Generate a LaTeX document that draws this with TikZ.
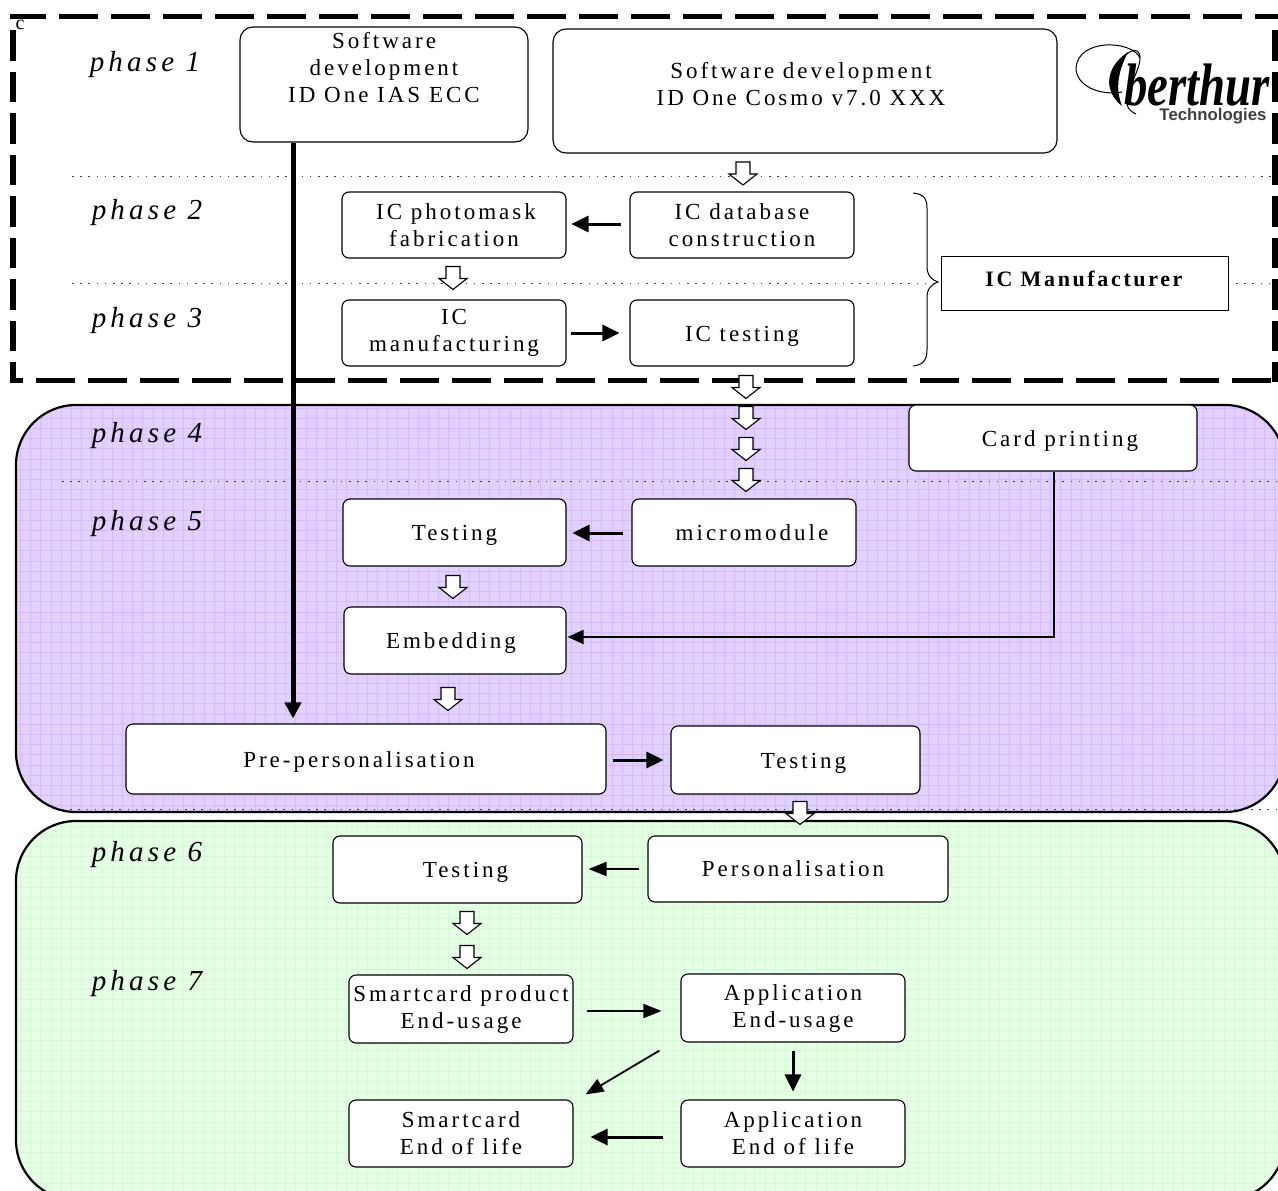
\documentclass[tikz,border=0pt]{standalone}
\usepackage{fontspec}
\setmainfont{Liberation Serif}
\newfontfamily\spaced[LetterSpace=13]{Liberation Serif}
\newfontfamily\spacedit[LetterSpace=14.5,Ligatures=NoCommon]{Liberation Serif Italic}
\newfontfamily\spacedbf[LetterSpace=12]{Liberation Serif Bold}
\newfontfamily\logofont{Liberation Serif Bold Italic}
\newfontfamily\logosans{Liberation Sans Bold}
\usetikzlibrary{arrows.meta,calc}
\tikzset{
  x=1pt,y=-1pt,
  boxbase/.style={draw=black,line width=1.1pt,fill=white,align=center,inner sep=0pt,
    font=\fontsize{23}{27}\spaced,text=black},
  box/.style={boxbase,rounded corners=7pt},
  bigbox/.style={boxbase,rounded corners=13pt},
  phase/.style={inner sep=0pt,font=\fontsize{29}{30}\spacedit,text=black},
  fat/.style={-{Triangle[length=17pt,width=16pt]},line width=3pt,black},
  thin/.style={-{Triangle[length=18pt,width=14pt]},line width=1.8pt,black},
  heavy/.style={-{Triangle[length=16pt,width=16pt]},line width=5pt,black},
  blockshape/.style={draw=black,fill=white,line width=1.1pt,line join=miter},
  sep/.style={line width=1pt,dash pattern=on 1.6pt off 6.6pt,black!75},
  frameh/.style={line width=5pt,black,dash pattern=on 39pt off 13pt},
  framev/.style={line width=6pt,black,dash pattern=on 30.5pt off 11pt},
  zone/.style={draw=black,line width=2.2pt,rounded corners=60pt},
}
\newcommand{\bx}[7][box]{\node[#1,minimum width=#5pt-#3pt,minimum height=#6pt-#4pt] (#2) at ({(#3+#5)/2},{(#4+#6)/2}) {#7};}
\newcommand{\blk}[3]{\coordinate (#1) at (#2,#3);
  \draw[blockshape] (#1) ++(-7,-11.5) -- ++(14,0) -- ++(0,12) -- ++(7,0) -- ++(-14,11) -- ++(-14,-11) -- ++(7,0) -- cycle;}
\newcommand{\dn}[1]{\raisebox{-8pt}[0pt][0pt]{#1}}
\begin{document}
\begin{tikzpicture}
\useasboundingbox (0,0) rectangle (1278,1191);
\clip (0,0) rectangle (1278,1191);
\fill[white] (0,0) rectangle (1278,1191);
% zones
\fill[fill={rgb,255:red,226;green,208;blue,255},rounded corners=60pt] (16,405) rectangle (1285,812);
\begin{scope}
  \clip[rounded corners=60pt] (16,405) rectangle (1285,812);
  \draw[line width=0.9pt,draw={rgb,255:red,213;green,186;blue,252}] (10.2,397.8) grid[xstep=10.2pt,ystep=10.2pt] (1290,820);
\end{scope}
\draw[zone] (16,405) rectangle (1285,812);
\fill[fill={rgb,255:red,228;green,255;blue,228},rounded corners=60pt] (16,821) rectangle (1285,1200);
\begin{scope}
  \clip[rounded corners=60pt] (16,821) rectangle (1285,1200);
  \draw[line width=0.9pt,draw={rgb,255:red,214;green,248;blue,214}] (10.2,816) grid[xstep=10.2pt,ystep=10.2pt] (1290,1205);
\end{scope}
\draw[zone] (16,821) rectangle (1285,1200);
% dotted separators
\draw[sep] (72,176) -- (1278,176);
\draw[sep] (72,283) -- (941,283);
\draw[sep] (1236,283) -- (1278,283);
\draw[sep] (62,481) -- (1278,481);
\draw[sep] (62,809) -- (1278,809);
% dashed frame
\draw[frameh,dash phase=3pt] (10,16) -- (1278,16);
\draw[frameh] (36,380) -- (1278,380);
\draw[line width=5pt] (10,380) -- (23,380);
\draw[framev] (13,30) -- (13,382);
\draw[framev] (1275,30) -- (1275,382);
% labels
\node[inner sep=0pt,font=\fontsize{20}{20}\selectfont] (cmark) at (20,24.5) {c};
\node[phase] (ph1) at (145,65) {phase 1};
\node[phase] (ph2) at (147,213) {phase 2};
\node[phase] (ph3) at (147,321) {phase 3};
\node[phase] (ph4) at (147,436) {phase 4};
\node[phase] (ph5) at (147,524) {phase 5};
\node[phase] (ph6) at (147,855) {phase 6};
\node[phase] (ph7) at (147,984) {phase 7};
% boxes
\bx[bigbox]{swa}{240}{27}{528}{142}{}
\node[font=\fontsize{23}{27}\spaced,align=center,inner sep=0pt] (swat) at (384,68) {Software\\development\\ID One IAS ECC};
\bx[bigbox]{swb}{553}{29}{1057}{153}{}
\node[font=\fontsize{23}{27}\spaced,align=center,inner sep=0pt] (swbt) at (801,84) {Software development\\ID One Cosmo v7.0 XXX};
\bx{mask}{342}{192}{566}{258}{\hspace*{4pt}IC photomask\\fabrication}
\bx{db}{630}{192}{854}{258}{IC database\\construction}
\bx{manu}{342}{300}{566}{366}{IC\\manufacturing}
\bx{ictest}{630}{300}{854}{366}{\dn{IC testing}}
\node[draw=black,line width=0.9pt,fill=white,minimum width=287pt,minimum height=54pt,inner sep=0pt] (icm) at (1084.5,283) {};
\node[font=\fontsize{22}{24}\spacedbf,inner sep=0pt] (icmt) at (1084,279) {IC Manufacturer};
\bx{card}{909}{405}{1197}{471}{\hspace*{14pt}\dn{Card printing}}
\bx{micro}{632}{499}{856}{566}{\hspace*{16pt}micromodule}
\bx{testa}{343}{499}{566}{566}{\dn{Testing}}
\bx{emb}{344}{607}{566}{674}{\dn{Embedding}\hspace*{8pt}}
\bx{pre}{126}{724}{606}{794}{\dn{Pre-personalisation}\hspace*{14pt}}
\bx{testb}{671}{726}{920}{794}{\hspace*{16pt}\dn{Testing}}
\bx{pers}{648}{836}{948}{902}{Personalisation\hspace*{10pt}}
\bx{testc}{333}{836}{582}{903}{\hspace*{16pt}\dn{Testing}}
\bx{smart}{349}{975}{573}{1043}{Smartcard product\\End-usage}
\bx{app}{681}{974}{905}{1042}{Application\\End-usage}
\bx{smartend}{349}{1100}{573}{1167}{Smartcard\\End of life}
\bx{append}{681}{1100}{905}{1167}{Application\\End of life}
% brace
\draw[line width=1pt] (913,193) .. controls (923,194) and (927,198) .. (927,208)
  -- (927,266) .. controls (927,276) and (932,280) .. (938,282)
  .. controls (932,284) and (927,288) .. (927,298)
  -- (927,350) .. controls (927,360) and (923,365) .. (913,366);
% block arrows
\blk{ba1}{743}{173.5}
\blk{ba2}{453}{278}
\blk{ba3}{746}{387}
\blk{ba4}{746}{418}
\blk{ba5}{746}{449}
\blk{ba6}{746}{480}
\blk{ba7}{453}{587}
\blk{ba8}{448}{699}
\blk{ba9}{800}{813}
\blk{ba10}{467}{923}
\blk{ba11}{467}{957}
% connectors
\draw[fat,shorten <=8pt,shorten >=5pt] (db.west |- 0,224) -- (mask.east |- 0,224);
\draw[fat,shorten <=4pt,shorten >=10pt] (manu.east |- 0,333) -- (ictest.west |- 0,333);
\draw[fat,shorten <=8pt,shorten >=6pt] (micro.west |- 0,533) -- (testa.east |- 0,533);
\draw[fat,shorten <=6pt,shorten >=7pt] (pre.east |- 0,760) -- (testb.west |- 0,760);
\draw[thin,shorten <=8pt,shorten >=6pt] (pers.west |- 0,869) -- (testc.east |- 0,869);
\draw[thin,shorten <=13pt,shorten >=19pt] (smart.east |- 0,1011) -- (app.west |- 0,1011);
\draw[fat,shorten <=8pt,shorten >=8pt] (app.south) -- (append.north);
\draw[fat,shorten <=17pt,shorten >=17pt] (append.west |- 0,1137) -- (smartend.east |- 0,1137);
\draw[thin] ($(app.south west)+(-21,8)$) -- ($(smartend.north east)+(12,-5)$);
\draw[thin,-{Triangle[length=16pt,width=14pt]},line width=1.8pt,shorten >=1pt] (card.south -| 1054,0) -- (1054,637) -- (emb.east |- 0,637);
\draw[heavy,shorten >=5pt] (swa.south -| 293,0) -- (pre.north -| 293,0);
% logo
\draw[line width=1pt] (1140,58) .. controls (1132,40) and (1078,38) .. (1076,68)
  .. controls (1076,86) and (1100,96) .. (1122,92);
\draw[line width=1pt] (1116,70) .. controls (1124,50) and (1140,44) .. (1140,58)
  .. controls (1140,72) and (1124,92) .. (1127,104) .. controls (1128,110) and (1132,112) .. (1136,114);
\fill (1128,52) .. controls (1104,68) and (1104,92) .. (1122,106)
  .. controls (1115,88) and (1118,72) .. (1128,52);
\node[font=\fontsize{60}{60}\logofont,inner sep=0pt,anchor=base west,xscale=0.78] (logo) at (1124,105) {berthur};
\node[font=\fontsize{16.8}{17}\logosans,text=black!75,inner sep=0pt] (logot) at (1213,116) {Technologies};
\end{tikzpicture}
\end{document}
